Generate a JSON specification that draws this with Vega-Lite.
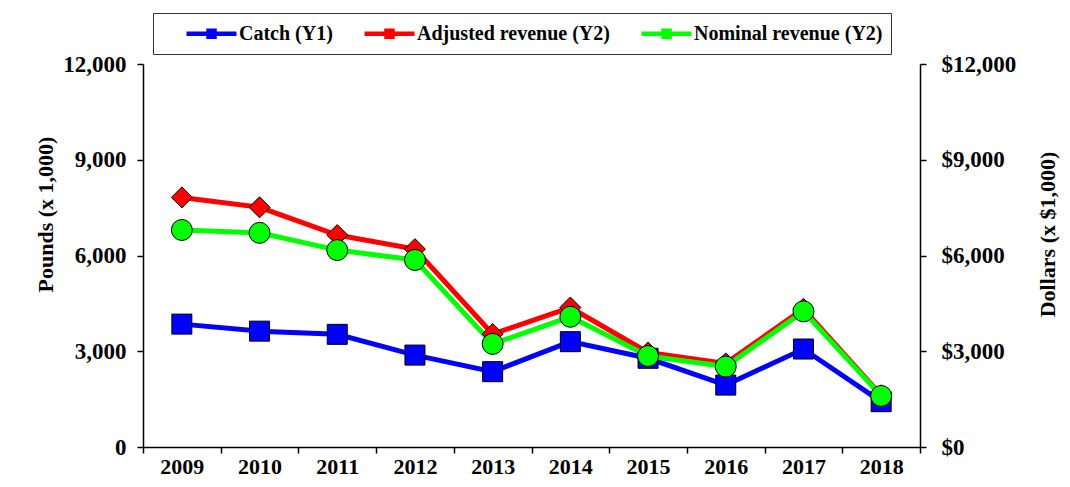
{
  "$schema": "https://vega.github.io/schema/vega-lite/v6.json",
  "width": 777,
  "height": 383,
  "autosize": {"type": "none"},
  "padding": {"left": 143, "top": 64, "right": 150, "bottom": 40},
  "background": "white",
  "encoding": {
    "x": {
      "field": "year",
      "type": "ordinal",
      "scale": {"type": "band", "paddingInner": 0, "paddingOuter": 0},
      "axis": {
        "title": null,
        "labelAngle": 0,
        "tickBand": "extent",
        "labelFont": "Liberation Serif, Times New Roman, serif",
        "labelFontWeight": "bold",
        "labelFontSize": 22,
        "labelColor": "black",
        "labelPadding": 3,
        "tickSize": 6,
        "tickColor": "black",
        "tickWidth": 1.5,
        "domainColor": "black",
        "domainWidth": 1.5,
        "grid": false
      }
    },
    "color": {
      "field": "series",
      "type": "nominal",
      "scale": {
        "domain": ["Catch (Y1)", "Adjusted revenue (Y2)", "Nominal revenue (Y2)"],
        "range": ["#0000FF", "#FF0000", "#00FF00"]
      },
      "legend": {
        "orient": "none",
        "legendX": 10,
        "legendY": -51,
        "direction": "horizontal",
        "title": " ",
        "titleOrient": "left",
        "titleFontSize": 10,
        "titlePadding": 38,
        "symbolType": "M-2.5,0H2.5M-0.3,-0.3H0.3V0.3H-0.3Z",
        "symbolSize": 400,
        "symbolStrokeWidth": 4.5,
        "symbolOpacity": 1,
        "labelFont": "Liberation Serif, Times New Roman, serif",
        "labelFontWeight": "bold",
        "labelFontSize": 20,
        "labelColor": "black",
        "labelOffset": 15,
        "labelLimit": 0,
        "columnPadding": 22,
        "padding": 8,
        "strokeColor": "#333333",
        "fillColor": "white"
      }
    }
  },
  "layer": [
    {
      "data": {"values": [
        {"year": "2009", "series": "Catch (Y1)", "value": 3850},
        {"year": "2010", "series": "Catch (Y1)", "value": 3630},
        {"year": "2011", "series": "Catch (Y1)", "value": 3530},
        {"year": "2012", "series": "Catch (Y1)", "value": 2880},
        {"year": "2013", "series": "Catch (Y1)", "value": 2360},
        {"year": "2014", "series": "Catch (Y1)", "value": 3300},
        {"year": "2015", "series": "Catch (Y1)", "value": 2780},
        {"year": "2016", "series": "Catch (Y1)", "value": 1940},
        {"year": "2017", "series": "Catch (Y1)", "value": 3070},
        {"year": "2018", "series": "Catch (Y1)", "value": 1420}
      ]},
      "encoding": {
        "y": {
          "field": "value",
          "type": "quantitative",
          "scale": {"domain": [0, 12000], "nice": false},
          "axis": {
            "orient": "left",
            "title": "Pounds  (x 1,000)",
            "values": [0, 3000, 6000, 9000, 12000],
            "format": ",.0f",
            "labelFont": "Liberation Serif, Times New Roman, serif",
            "labelFontWeight": "bold",
            "labelFontSize": 23,
            "labelColor": "black",
            "labelPadding": 11,
            "tickSize": 6,
            "tickColor": "black",
            "tickWidth": 1.5,
            "domainColor": "black",
            "domainWidth": 1.5,
            "grid": false,
            "titleFont": "Liberation Serif, Times New Roman, serif",
            "titleFontWeight": "bold",
            "titleFontSize": 22,
            "titleColor": "black",
            "titlePadding": 5,
            "titleY": 150
          }
        }
      },
      "layer": [
        {"mark": {"type": "line", "strokeWidth": 5}},
        {"mark": {"type": "point", "shape": "square", "filled": true, "size": 400, "opacity": 1, "stroke": "black", "strokeWidth": 1}}
      ]
    },
    {
      "data": {"values": [
        {"year": "2009", "series": "Adjusted revenue (Y2)", "value": 7820},
        {"year": "2010", "series": "Adjusted revenue (Y2)", "value": 7510},
        {"year": "2011", "series": "Adjusted revenue (Y2)", "value": 6640},
        {"year": "2012", "series": "Adjusted revenue (Y2)", "value": 6200},
        {"year": "2013", "series": "Adjusted revenue (Y2)", "value": 3540},
        {"year": "2014", "series": "Adjusted revenue (Y2)", "value": 4370},
        {"year": "2015", "series": "Adjusted revenue (Y2)", "value": 2960},
        {"year": "2016", "series": "Adjusted revenue (Y2)", "value": 2620},
        {"year": "2017", "series": "Adjusted revenue (Y2)", "value": 4330},
        {"year": "2018", "series": "Adjusted revenue (Y2)", "value": 1620},
        {"year": "2009", "series": "Nominal revenue (Y2)", "value": 6800},
        {"year": "2010", "series": "Nominal revenue (Y2)", "value": 6710},
        {"year": "2011", "series": "Nominal revenue (Y2)", "value": 6170},
        {"year": "2012", "series": "Nominal revenue (Y2)", "value": 5860},
        {"year": "2013", "series": "Nominal revenue (Y2)", "value": 3230},
        {"year": "2014", "series": "Nominal revenue (Y2)", "value": 4080},
        {"year": "2015", "series": "Nominal revenue (Y2)", "value": 2850},
        {"year": "2016", "series": "Nominal revenue (Y2)", "value": 2520},
        {"year": "2017", "series": "Nominal revenue (Y2)", "value": 4250},
        {"year": "2018", "series": "Nominal revenue (Y2)", "value": 1600}
      ]},
      "encoding": {
        "y": {
          "field": "value",
          "type": "quantitative",
          "scale": {"domain": [0, 12000], "nice": false},
          "axis": {
            "orient": "right",
            "title": "Dollars  (x $1,000)",
            "values": [0, 3000, 6000, 9000, 12000],
            "format": "$,.0f",
            "labelFont": "Liberation Serif, Times New Roman, serif",
            "labelFontWeight": "bold",
            "labelFontSize": 23,
            "labelColor": "black",
            "labelPadding": 15,
            "tickSize": 6,
            "tickColor": "black",
            "tickWidth": 1.5,
            "domainColor": "black",
            "domainWidth": 1.5,
            "grid": false,
            "titleFont": "Liberation Serif, Times New Roman, serif",
            "titleFontWeight": "bold",
            "titleFontSize": 22,
            "titleColor": "black",
            "titleAngle": 270,
            "titleBaseline": "top",
            "titlePadding": 22,
            "titleY": 170
          }
        }
      },
      "layer": [
        {"mark": {"type": "line", "strokeWidth": 5}},
        {
          "mark": {"type": "point", "filled": true, "size": 440, "opacity": 1, "stroke": "black", "strokeWidth": 1},
          "encoding": {
            "shape": {
              "field": "series",
              "type": "nominal",
              "scale": {"domain": ["Adjusted revenue (Y2)", "Nominal revenue (Y2)"], "range": ["diamond", "circle"]},
              "legend": null
            }
          }
        }
      ]
    }
  ],
  "resolve": {"scale": {"y": "independent"}},
  "config": {
    "view": {"stroke": null},
    "axis": {"grid": false}
  }
}
